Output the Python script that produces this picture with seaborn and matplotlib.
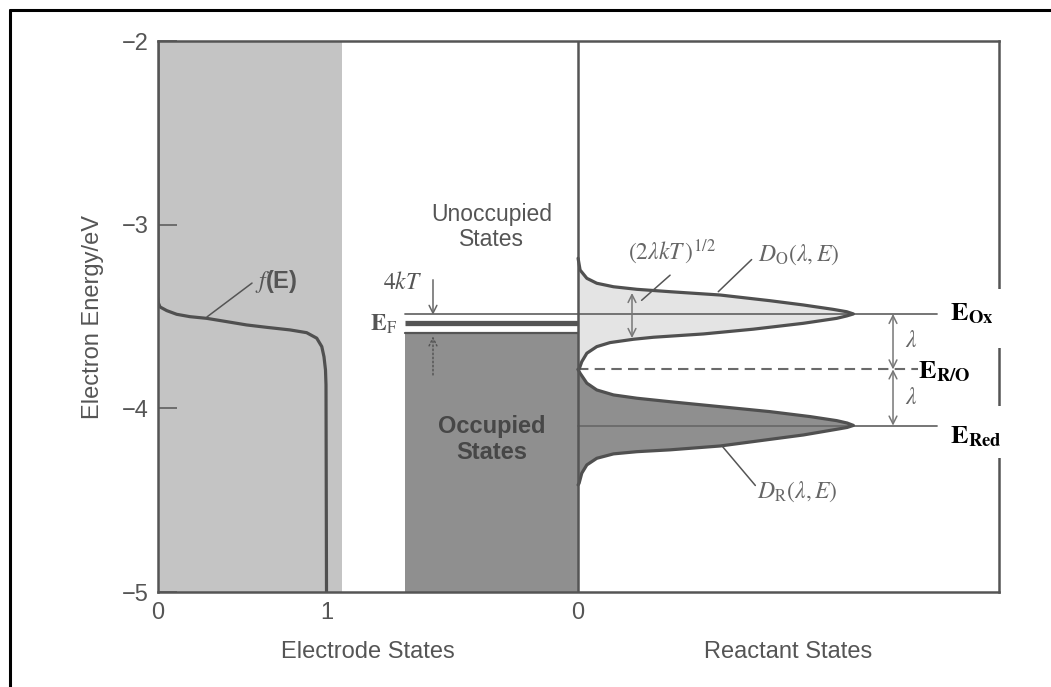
import matplotlib
matplotlib.use("Agg")
import matplotlib.pyplot as plt
import seaborn as sns
from matplotlib.lines import Line2D
from matplotlib.patches import Rectangle
import matplotlib.transforms as mtransforms

# ---------------- data ----------------
# Fermi function f(E) of the electrode (occupancy vs energy, eV)
fermi_occupancy = [0.0, 0.0, 0.002, 0.012, 0.052, 0.111, 0.190, 0.289, 0.408, 0.526,
                   0.645, 0.783, 0.882, 0.942, 0.972, 0.985, 0.994, 0.997, 1.0]
fermi_energy = [-2.0, -3.392, -3.426, -3.448, -3.468, -3.488, -3.501, -3.510, -3.528, -3.546,
                -3.559, -3.573, -3.588, -3.618, -3.664, -3.719, -3.791, -3.873, -5.0]

# D_O(lambda, E): oxidised reactant density of states
dox_energy = [-3.183, -3.247, -3.292, -3.319, -3.338, -3.352, -3.365, -3.383, -3.414, -3.437,
              -3.461, -3.474, -3.486, -3.497, -3.510, -3.537, -3.569, -3.595, -3.613, -3.624,
              -3.642, -3.664, -3.700, -3.746, -3.782, -3.788]
dox_density = [0.000, 0.012, 0.052, 0.111, 0.210, 0.349, 0.546, 0.843, 1.139, 1.335,
               1.513, 1.594, 1.634, 1.594, 1.535, 1.337, 1.040, 0.744, 0.447, 0.328,
               0.190, 0.111, 0.052, 0.022, 0.008, 0.000]

# D_R(lambda, E): reduced reactant density of states
dred_energy = [-3.788, -3.809, -3.863, -3.900, -3.927, -3.945, -3.964, -3.991, -4.018, -4.045,
               -4.067, -4.080, -4.093, -4.104, -4.114, -4.145, -4.181, -4.205, -4.226, -4.236,
               -4.248, -4.272, -4.308, -4.353, -4.408, -4.417]
dred_density = [0.000, 0.012, 0.052, 0.111, 0.210, 0.349, 0.546, 0.843, 1.139, 1.377,
                1.535, 1.597, 1.634, 1.597, 1.535, 1.337, 1.040, 0.843, 0.546, 0.349,
                0.210, 0.111, 0.052, 0.022, 0.006, 0.000]

# characteristic energies (eV)
E_OX = -3.486
E_RO = -3.788
E_RED = -4.094
E_F = -3.533
E_F_BOTTOM = -3.588

y_ticks = [-5, -4, -3, -2]
x_tick_labels = ["0", "1", "0"]

# ---------------- layout constants ----------------
W, H = 1051, 687
R0 = 2.493          # position of the reactant-state zero
XMAX = 4.991
BAND_RIGHT = 1.094  # right edge of the grey electrode band
OCC_LEFT = 1.466    # left edge of the occupied-states block
LEVEL_END = 4.623   # right end of E_Ox / E_Red lines
LAM_X = 4.362
WIDTH_X = R0 + 0.320
KT_X = 1.632

sns.set_theme(style="white")
plt.rcParams["font.family"] = ["Liberation Sans", "DejaVu Sans"]
plt.rcParams["mathtext.fontset"] = "stix"

TXT = "#555555"
LINE = "#505050"

fig = plt.figure(figsize=(W / 100, H / 100), dpi=100)
ax = fig.add_axes([158 / W, 1 - 592 / H, (999 - 158) / W, (592 - 41) / H])
ax.set_xlim(0, XMAX)
ax.set_ylim(-5, -2)

# grey electrode band and occupied block
ax.fill_betweenx([-5, -2], 0, BAND_RIGHT, color="#c4c4c4", lw=0, zorder=0.5)
ax.fill_betweenx([-5, E_F_BOTTOM], OCC_LEFT, R0, color="#8f8f8f", lw=0, zorder=0.5)
ax.plot([OCC_LEFT, R0], [E_F_BOTTOM, E_F_BOTTOM], color="#555555", lw=1.6, zorder=1)

# reactant densities of states
dox_x = [R0 + d for d in dox_density]
dred_x = [R0 + d for d in dred_density]
ax.fill_betweenx(dox_energy, R0, dox_x, color="#e4e4e4", lw=0, zorder=0.6)
ax.fill_betweenx(dred_energy, R0, dred_x, color="#8f8f8f", lw=0, zorder=0.6)

# energy levels
ax.plot([OCC_LEFT, LEVEL_END], [E_OX, E_OX], color="#6a6a6a", lw=1.3, zorder=1.2)
ax.plot([R0, LEVEL_END], [E_RED, E_RED], color="#6a6a6a", lw=1.3, zorder=1.2)
ax.plot([R0, 4.510], [E_RO, E_RO], color="#6a6a6a", lw=1.5, ls=(0, (5, 3)), zorder=1.2)
ax.plot([OCC_LEFT, R0], [E_F, E_F], color="#555555", lw=3.8, solid_capstyle="butt", zorder=1.2)

# curves
sns.lineplot(x=fermi_occupancy, y=fermi_energy, sort=False, estimator=None,
             color=LINE, lw=2.3, ax=ax, zorder=3)
sns.lineplot(x=dox_x, y=dox_energy, sort=False, estimator=None,
             color=LINE, lw=2.3, ax=ax, zorder=3)
sns.lineplot(x=dred_x, y=dred_energy, sort=False, estimator=None,
             color=LINE, lw=2.3, ax=ax, zorder=3)
ax.axvline(R0, color="#555555", lw=1.8, zorder=3.5)

# arrows
arrow_kw = dict(arrowstyle="<->", color="#777777", lw=1.1, mutation_scale=14,
                shrinkA=0, shrinkB=0)
ax.annotate("", xy=(LAM_X, E_RO), xytext=(LAM_X, E_OX), arrowprops=arrow_kw)
ax.annotate("", xy=(LAM_X, E_RED), xytext=(LAM_X, E_RO), arrowprops=arrow_kw)
ax.annotate("", xy=(WIDTH_X, -3.617), xytext=(WIDTH_X, -3.372), arrowprops=arrow_kw)
ax.annotate("", xy=(KT_X, E_OX - 0.005), xytext=(KT_X, -3.300),
            arrowprops=dict(arrowstyle="->", color="#666666", lw=1.1, mutation_scale=14,
                            shrinkA=0, shrinkB=0))
ax.annotate("", xy=(KT_X, E_F_BOTTOM - 0.02), xytext=(KT_X, -3.818),
            arrowprops=dict(arrowstyle="->", color="#555555", lw=1.1, ls=":",
                            mutation_scale=14, shrinkA=0, shrinkB=0))

# leader lines
lead_kw = dict(color="#555555", lw=1.1, zorder=4)
ax.plot([0.291, 0.558], [-3.502, -3.318], **lead_kw)
ax.plot([2.870, 3.039], [-3.412, -3.275], **lead_kw)
ax.plot([3.325, 3.523], [-3.365, -3.190], **lead_kw)
ax.plot([3.350, 3.545], [-4.208, -4.420], **lead_kw)

# annotations
ax.text(0.576, -3.312, r"$f$(E)", fontsize=17, color=TXT, fontweight="bold",
        ha="left", va="center")
ax.text(1.979, -2.942, "Unoccupied", fontsize=16.5, color=TXT, ha="center", va="center")
ax.text(1.979, -3.083, "States", fontsize=16.5, color=TXT, ha="center", va="center")
ax.text(1.979, -4.101, "Occupied", fontsize=17, color="#474747", fontweight="bold",
        ha="center", va="center", zorder=4)
ax.text(1.979, -4.243, "States", fontsize=17, color="#474747", fontweight="bold",
        ha="center", va="center", zorder=4)
ax.text(1.454, -3.317, r"$4kT$", fontsize=17, color=TXT, ha="center", va="center")
ax.text(1.418, -3.541, r"$\mathbf{E}_{\mathrm{F}}$", fontsize=17, color=TXT,
        ha="right", va="center")
ax.text(2.789, -3.154, r"$(2\lambda kT\,)^{1/2}$", fontsize=17, color="#666666",
        ha="left", va="center")
ax.text(3.561, -3.165, r"$D_{\mathrm{O}}(\lambda,E)$", fontsize=17, color="#666666",
        ha="left", va="center")
ax.text(3.555, -4.455, r"$D_{\mathrm{R}}(\lambda,E)$", fontsize=17, color="#666666",
        ha="left", va="center")
ax.text(4.433, -3.633, r"$\lambda$", fontsize=17, color="#666666", ha="left", va="center")
ax.text(4.433, -3.943, r"$\lambda$", fontsize=17, color="#666666", ha="left", va="center")

# white boxes over the right frame behind the level labels
for y0, y1 in [(-3.35, -3.67), (-3.99, -4.27)]:
    ax.add_patch(Rectangle((4.641, y1), 0.62, y0 - y1, transform=ax.transData,
                           facecolor="white", edgecolor="none", clip_on=False, zorder=5))
ax.text(4.700, E_OX, r"$\mathbf{E}_{\mathbf{Ox}}$", fontsize=19, color="black",
        ha="left", va="center", zorder=6)
ax.text(4.510, -3.802, r"$\mathbf{E}_{\mathbf{R/O}}$", fontsize=19, color="black",
        ha="left", va="center", zorder=6)
ax.text(4.700, -4.156, r"$\mathbf{E}_{\mathbf{Red}}$", fontsize=19, color="black",
        ha="left", va="center", zorder=6)

# axes styling
ax.set_yticks(y_ticks)
ax.set_yticklabels(["\u2212" + str(abs(v)) for v in y_ticks])
ax.set_xticks([0, 1, R0])
ax.set_xticklabels(x_tick_labels)
ax.tick_params(axis="y", direction="in", length=14, width=1.3, color="#666666",
               pad=7, labelsize=17, labelcolor=TXT, left=True)
ax.tick_params(axis="x", length=0, pad=7, labelsize=17, labelcolor=TXT)
for s in ax.spines.values():
    s.set_color("#555555")
    s.set_linewidth(1.8)
    s.set_zorder(4.5)

ax.set_ylabel("Electron Energy/eV", fontsize=17, color=TXT)
ax.yaxis.set_label_coords((103.5 - 158) / 841, 0.5)
xlab_tr = ax.get_xaxis_transform()
ax.text(R0 / 2, -0.109, "Electrode States", fontsize=17, color=TXT,
        ha="center", va="center", transform=xlab_tr)
ax.text((R0 + XMAX) / 2, -0.109, "Reactant States", fontsize=17, color=TXT,
        ha="center", va="center", transform=xlab_tr)

# outer frame (top and left)
fig.add_artist(Line2D([10 / W, 1.0], [1 - 10 / H, 1 - 10 / H], color="black", lw=2.2,
                      transform=fig.transFigure))
fig.add_artist(Line2D([10 / W, 10 / W], [0.0, 1 - 10 / H], color="black", lw=2.2,
                      transform=fig.transFigure))

fig.savefig("out.png", dpi=100, facecolor="white")
